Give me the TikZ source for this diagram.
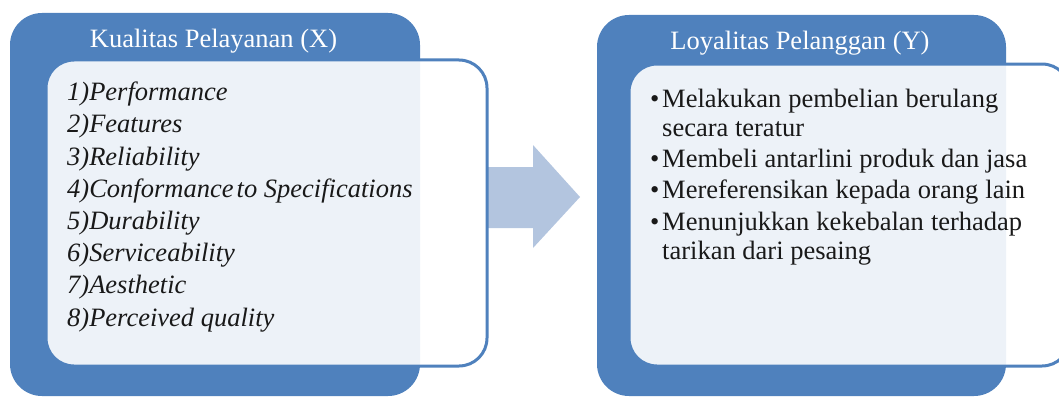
\documentclass[tikz,border=0pt]{standalone}
\usepackage{fontspec}
\setmainfont{Liberation Serif}
\definecolor{outerblue}{HTML}{4F81BD}
\definecolor{arrowblue}{HTML}{B3C5DF}
\begin{document}
\begin{tikzpicture}[x=1pt,y=-1pt,
  outerbox/.style={fill=outerblue,draw=none,rounded corners=32pt},
  innerbox/.style={fill=white,fill opacity=0.9,draw=outerblue,line width=3pt,rounded corners=28pt},
  titletext/.style={text=white,font=\fontsize{26.5}{30}\selectfont,anchor=base,inner sep=0pt},
  itemtext/.style={text=black!90,font=\fontsize{26.5}{30}\selectfont\itshape,anchor=base west,inner sep=0pt},
  bullettext/.style={text=black!90,font=\fontsize{26.5}{30}\selectfont,anchor=base west,inner sep=0pt}]
\useasboundingbox (0,0) rectangle (1059,396);
\clip (0,0) rectangle (1059,396);
% outer boxes
\fill[outerbox] (10,13) rectangle (420,396);
\fill[outerbox] (597,15) rectangle (1006,396);
% arrow
\fill[arrowblue] (488,167) -- (533,167) -- (533,145) -- (580,197) -- (533,248) -- (533,228) -- (488,228) -- cycle;
% inner boxes
\draw[innerbox] (46,60) rectangle (487,366);
\draw[innerbox] (629,64) rectangle (1070,366);
% titles
\node[titletext] (tx) at (213.5,48) {Kualitas Pelayanan (X)};
\node[titletext] (ty) at (800,49) {Loyalitas Pelanggan (Y)};
% left list
\node[itemtext] (x1) at (67,100.7) {1)Performance};
\node[itemtext] (x2) at (67,132.9) {2)Features};
\node[itemtext] (x3) at (67,165.1) {3)Reliability};
\node[itemtext] (x4) at (67,197.3) {4)Conformance\hspace{0.12em}to Specifications};
\node[itemtext] (x5) at (67,229.5) {5)Durability};
\node[itemtext] (x6) at (67,261.7) {6)Serviceability};
\node[itemtext] (x7) at (67,293.9) {7)Aesthetic};
\node[itemtext] (x8) at (67,326.1) {8)Perceived quality};
% right list
\node[bullettext] (b1) at (650,107) {\textbullet};
\node[bullettext] (y1) at (662,107) {\makebox[336pt][s]{Melakukan pembelian berulang}};
\node[bullettext] (y1b) at (662,136.5) {secara teratur};
\node[bullettext] (b2) at (650,167) {\textbullet};
\node[bullettext] (y2) at (662,167) {Membeli antarlini produk dan jasa};
\node[bullettext] (b3) at (650,198.5) {\textbullet};
\node[bullettext] (y3) at (662,198.5) {\makebox[363pt][s]{Mereferensikan kepada orang lain}};
\node[bullettext] (b4) at (650,230) {\textbullet};
\node[bullettext] (y4) at (662,230) {\makebox[360pt][s]{Menunjukkan kekebalan terhadap}};
\node[bullettext] (y4b) at (662,259.5) {tarikan dari pesaing};
\end{tikzpicture}
\end{document}
